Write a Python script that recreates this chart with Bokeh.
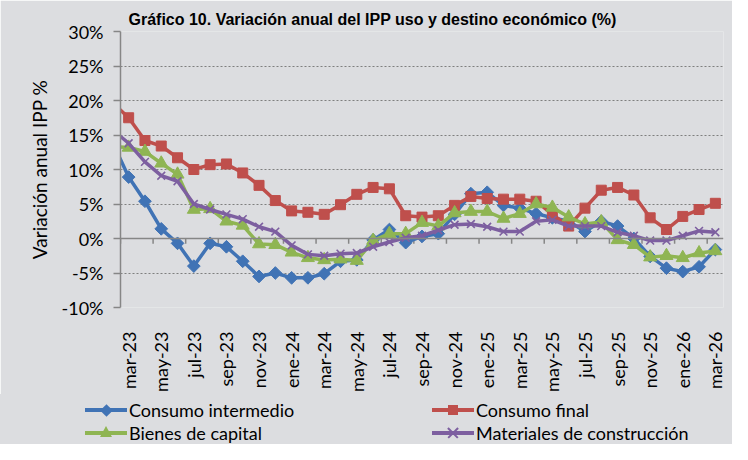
import numpy as np
from bokeh.plotting import figure
from bokeh.layouts import column
from bokeh.models import FixedTicker, Span, Title, Range1d, Div
from bokeh.embed import file_html
from bokeh.resources import INLINE

# Month labels (feb-23 is only partly visible at the left edge)
months = ["feb-23", "mar-23", "abr-23", "may-23", "jun-23", "jul-23", "ago-23", "sep-23",
          "oct-23", "nov-23", "dic-23", "ene-24", "feb-24", "mar-24", "abr-24", "may-24",
          "jun-24", "jul-24", "ago-24", "sep-24", "oct-24", "nov-24", "dic-24", "ene-25",
          "feb-25", "mar-25", "abr-25", "may-25", "jun-25", "jul-25", "ago-25", "sep-25",
          "oct-25", "nov-25", "dic-25", "ene-26", "feb-26", "mar-26"]

consumo_intermedio = [14.0, 8.9, 5.4, 1.4, -0.7, -4.0, -0.7, -1.2, -3.3, -5.5, -5.0, -5.7,
                      -5.7, -5.1, -3.3, -3.1, -0.2, 1.3, -0.6, 0.3, 0.7, 3.5, 6.5, 6.7,
                      4.8, 4.4, 3.6, 3.0, 2.5, 1.0, 2.5, 1.8, 0.0, -2.6, -4.3, -4.8, -4.1, -1.6]
consumo_final = [19.7, 17.5, 14.2, 13.4, 11.7, 10.0, 10.7, 10.8, 9.5, 7.7, 5.5, 4.0,
                 3.8, 3.5, 4.9, 6.4, 7.4, 7.2, 3.3, 3.1, 3.3, 4.8, 6.1, 5.8,
                 5.7, 5.7, 5.4, 3.5, 1.8, 4.4, 7.0, 7.4, 6.3, 3.0, 1.3, 3.2, 4.2, 5.1]
bienes_capital = [13.3, 13.2, 12.6, 10.9, 9.3, 4.2, 4.3, 2.5, 1.9, -0.8, -0.9, -2.0,
                  -2.8, -3.1, -3.0, -3.2, -0.3, 0.7, 0.7, 2.3, 1.8, 3.7, 3.9, 3.9,
                  2.9, 3.6, 5.0, 4.5, 3.1, 2.1, 2.4, -0.2, -0.9, -2.7, -2.5, -2.8, -2.1, -1.8]
materiales = [15.8, 13.8, 11.1, 9.1, 8.3, 5.0, 4.2, 3.5, 2.8, 1.7, 1.0, -1.0,
              -2.3, -2.5, -2.2, -2.1, -1.2, -0.5, 0.1, 0.4, 1.2, 2.0, 2.1, 1.7,
              1.0, 1.0, 2.5, 2.7, 1.8, 1.8, 1.8, 0.9, 0.4, -0.3, -0.3, 0.4, 1.1, 0.9]

y_ticks = [-10, -5, 0, 5, 10, 15, 20, 25, 30]

title_text = "Gráfico 10. Variación anual del IPP uso y destino económico (%)"
y_label = "Variación anual IPP %"

BG = "#dcdde0"
AXIS_COL = "#868686"
FONT = "Lato"

x = np.arange(len(months)) - 1          # mar-23 -> 0
n_shown = len(months) - 1               # categories from mar-23 to mar-26

p = figure(width=732, height=394,
           x_range=Range1d(-0.5, n_shown - 0.5), y_range=Range1d(y_ticks[0], y_ticks[-1]),
           output_backend="svg", toolbar_location=None,
           min_border_left=120, min_border_right=9, min_border_top=31, min_border_bottom=80,
           background_fill_color=BG, border_fill_color=BG, outline_line_color=None)

p.title = Title(text=title_text, text_font="Liberation Sans", text_font_style="bold",
                text_font_size="16px", text_color="#000000", align="left", offset=8, standoff=8)

# X axis: labels every two months, vertical
label_ticks = list(range(0, n_shown, 2))
p.xaxis.ticker = FixedTicker(ticks=label_ticks)
p.xaxis.major_label_overrides = {i: months[i + 1] for i in label_ticks}
p.xaxis.major_label_orientation = np.pi / 2
p.xaxis.axis_line_color = None
p.xaxis.major_tick_line_color = None
p.xaxis.minor_tick_line_color = None
p.xaxis.major_label_standoff = 18
p.xaxis.major_label_text_font = FONT
p.xaxis.major_label_text_font_size = "18px"
p.xaxis.major_label_text_color = "#000000"

# Y axis
p.yaxis.ticker = FixedTicker(ticks=y_ticks)
p.yaxis.major_label_overrides = {v: f"{v}%" for v in y_ticks}
p.yaxis.axis_line_color = AXIS_COL
p.yaxis.axis_line_width = 1.5
p.yaxis.major_tick_line_color = AXIS_COL
p.yaxis.major_tick_line_width = 1.5
p.yaxis.major_tick_out = 7
p.yaxis.major_tick_in = 0
p.yaxis.minor_tick_line_color = None
p.yaxis.major_label_standoff = 10
p.yaxis.major_label_text_font = FONT
p.yaxis.major_label_text_font_size = "18px"
p.yaxis.major_label_text_color = "#000000"
p.yaxis.axis_label = y_label
p.yaxis.axis_label_text_font = FONT
p.yaxis.axis_label_text_font_size = "19px"
p.yaxis.axis_label_text_font_style = "normal"
p.yaxis.axis_label_text_color = "#000000"
p.yaxis.axis_label_standoff = 8

# Grid
p.xgrid.visible = False
p.ygrid.ticker = FixedTicker(ticks=y_ticks)
p.ygrid.grid_line_color = "#7f7f7f"
p.ygrid.grid_line_dash = "2 2"
p.ygrid.grid_line_width = 1

# Horizontal axis line at 0 with tick marks at category boundaries
p.add_layout(Span(location=0, dimension="width", line_color=AXIS_COL, line_width=1.5))
bounds = np.arange(-0.5, n_shown, 2)
p.segment(x0=bounds, y0=np.zeros_like(bounds), x1=bounds, y1=np.full_like(bounds, -0.75),
          line_color=AXIS_COL, line_width=1.5)

series = [
    ("Consumo intermedio", consumo_intermedio, "#4073b5", "diamond"),
    ("Consumo final", consumo_final, "#bf4f4c", "square"),
    ("Bienes de capital", bienes_capital, "#8fb553", "triangle"),
    ("Materiales de construcción", materiales, "#7d5fa0", "x"),
]

for name, vals, col, mk in series:
    p.line(x, vals, line_color=col, line_width=3.5)
    if mk == "x":
        p.scatter(x, vals, marker="x", size=11, line_color=col, line_width=1.6)
    elif mk == "diamond":
        p.scatter(x, vals, marker="square", angle=np.pi / 4, size=9, fill_color=col, line_color=col)
    elif mk == "square":
        p.scatter(x, vals, marker="square", size=10, fill_color=col, line_color=col)
    else:
        p.scatter(x, vals, marker="triangle", size=13, fill_color=col, line_color=col)

# Legend (two columns, two rows) below the chart, as an HTML strip
col_x = [85, 432]
row_y = [16, 39]
GW = 42


def marker_html(kind, cx, cy, col):
    if kind == "diamond":
        return (f'<div style="position:absolute;left:{cx-4.5}px;top:{cy-4.5}px;width:9px;height:9px;'
                f'background:{col};transform:rotate(45deg)"></div>')
    if kind == "square":
        return (f'<div style="position:absolute;left:{cx-5}px;top:{cy-5}px;width:10px;height:10px;'
                f'background:{col}"></div>')
    if kind == "triangle":
        return (f'<div style="position:absolute;left:{cx-6.5}px;top:{cy-7}px;width:0;height:0;'
                f'border-left:6.5px solid transparent;border-right:6.5px solid transparent;'
                f'border-bottom:11px solid {col}"></div>')
    bars = ""
    for ang in (45, -45):
        bars += (f'<div style="position:absolute;left:{cx-7}px;top:{cy-0.8}px;width:14px;height:1.6px;'
                 f'background:{col};transform:rotate({ang}deg)"></div>')
    return bars


parts = []
for k, (name, vals, col, mk) in enumerate(series):
    gx = col_x[k % 2]
    cy = row_y[k // 2]
    parts.append(f'<div style="position:absolute;left:{gx}px;top:{cy-1.75}px;width:{GW}px;height:3.5px;'
                 f'background:{col}"></div>')
    parts.append(marker_html(mk, gx + GW / 2, cy, col))
    parts.append(f'<div style="position:absolute;left:{gx+GW+2}px;top:{cy-11}px;line-height:22px;'
                 f'font-family:Lato;font-size:18px;color:#000;white-space:nowrap">{name}</div>')

legend_html = (f'<div style="position:relative;width:732px;height:50px;background:{BG};overflow:hidden">'
               + "".join(parts) + '</div>')
legend_div = Div(text=legend_html, width=732, height=50, margin=0,
                 styles={"background-color": BG, "padding": "0px"})

layout = column(p, legend_div, spacing=0)
open("out.html", "w").write(file_html(layout, INLINE))
